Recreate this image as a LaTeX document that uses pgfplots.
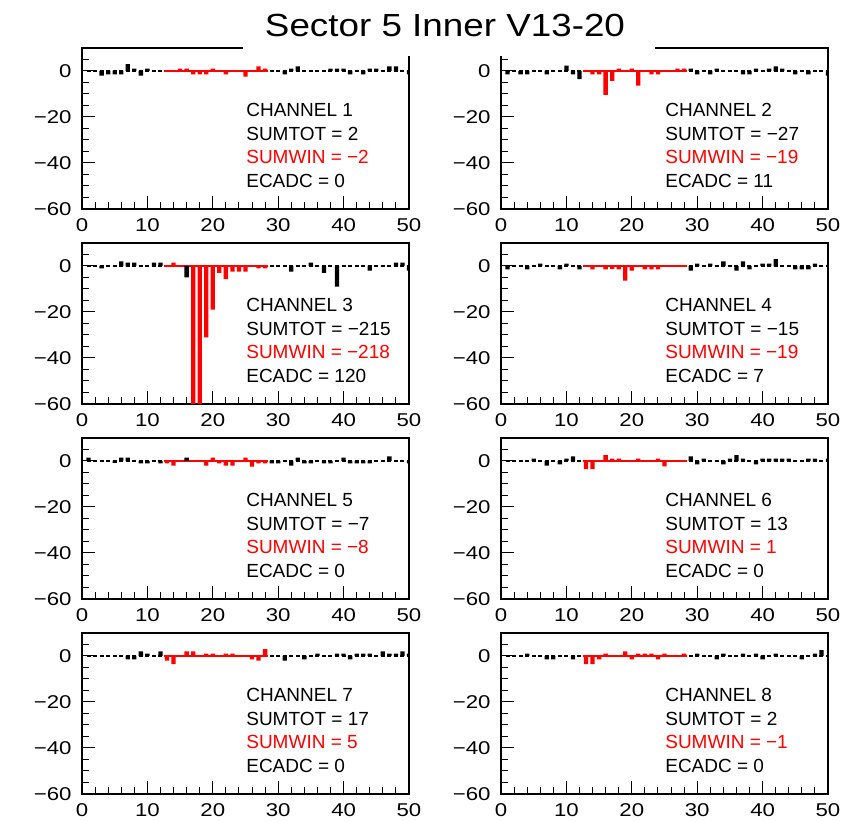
\documentclass[border=0pt]{standalone}
\usepackage{pgfplots}
\pgfplotsset{compat=1.18}
\usepackage{graphicx}
\usepackage{fontspec}
\setmainfont{Liberation Sans}
\newfontfamily\tickfont[FakeStretch=1.2]{Liberation Sans}

\pgfplotsset{panel/.style={
  scale only axis, width=327pt, height=161pt,
  xmin=0, xmax=50, ymin=-60, ymax=10,
  xtick={0,10,20,30,40,50}, minor xtick={2,4,...,48},
  ytick={-60,-40,-20,0}, minor ytick={-55,-50,...,5},
  xticklabels={0,10,20,30,40,50}, yticklabels={−60,−40,−20,0},
  tick align=inside, tick pos=left,
  major tick length=13pt, minor tick length=7pt,
  tick style={black, line width=1pt},
  axis line style={line width=1.3pt},
  ticklabel style={font=\tickfont\fontsize{18.5}{18.5}\selectfont},
  xticklabel style={yshift=-6pt},
  yticklabel style={xshift=-7pt},
  anchor=south west,
}}

% #1 x, #2 y, #3 black bars, #4 red bars, #5 channel, #6 sumtot, #7 sumwin, #8 ecadc
\newcommand{\panel}[8]{%
\begin{axis}[panel, at={(#1pt,#2pt)}]
\addplot[black, line width=1.5pt, dash pattern=on 4pt off 2.54pt] coordinates {(0.69,0) (50,0)};
\addplot[red, line width=1.5pt] coordinates {(12.5,0) (28.5,0)};
\addplot[ybar, bar width=4.3pt, bar shift=0pt, fill=black, draw=none] coordinates {#3};
\addplot[ybar, bar width=4.3pt, bar shift=0pt, fill=red, draw=none] coordinates {#4};
\node[anchor=base west, inner sep=0, font=\fontsize{19}{19}\selectfont] at (rel axis cs:0.502,0.573) {CHANNEL #5};
\node[anchor=base west, inner sep=0, font=\fontsize{19}{19}\selectfont] at (rel axis cs:0.502,0.424) {SUMTOT = #6};
\node[anchor=base west, inner sep=0, font=\fontsize{19}{19}\selectfont, text=red] at (rel axis cs:0.502,0.281) {SUMWIN = #7};
\node[anchor=base west, inner sep=0, font=\fontsize{19}{19}\selectfont] at (rel axis cs:0.502,0.132) {ECADC = #8};
\end{axis}}

\begin{document}
\begin{tikzpicture}
\useasboundingbox (0,0) rectangle (844pt,822pt);

\panel{82}{613}
{(3,-2)(4,-1.5)(5,-1.5)(6,-1.5)(7,3)(8,1)(9,-2)(10,1)(31,-1.5)(32,1)(33,2)(38,1)(39,1)(40,1)(41,-1.5)(43,-1.5)(44,1)(45,1)(47,2)(48,2)(50,-1.5)}
{(15,1)(16,1)(17,-1.5)(18,-1.5)(19,-1.5)(20,1)(22,-1.5)(25,-2.5)(27,2)(28,1)}
{1}{2}{−2}{0}

\panel{501}{613}
{(1,-1.5)(3,-1.5)(4,-1.5)(7,-1.5)(10,2.3)(11,-1.5)(12,-3.5)(29,1)(30,-1.5)(32,-1.5)(33,1)(37,-1.5)(38,-1.5)(39,1)(41,1)(42,2)(43,1)(45,-1.5)(47,-1.5)(50,-2)}
{(14,-1.5)(15,-1.5)(16,-10.4)(17,-4.3)(18,1)(20,1)(21,-6.4)(23,-1.5)(24,-1.5)(27,1)(28,1)}
{2}{−27}{−19}{11}

\panel{82}{418}
{(3,-1)(6,2)(7,1.5)(8,1.5)(11,1.5)(12,1.5)(16,-5)(32,-2.4)(35,1.5)(37,-3)(39,-9)(44,-2)(48,1.5)(49,1.5)(50,-2)}
{(14,1.5)(17,-80)(18,-70)(19,-31)(20,-19)(21,-3)(22,-5.7)(23,-2.4)(24,-2.4)(25,-2.4)(27,-1)(28,-1)}
{3}{−215}{−218}{120}

\panel{501}{418}
{(1,-1.5)(4,-1.5)(6,1)(9,-1.5)(10,1)(12,-1.5)(29,-2)(30,1)(32,1)(34,2)(36,-2)(37,2)(38,-1.5)(40,1)(41,1)(42,3)(45,-1.5)(46,-1.5)(47,-1.5)(48,1)}
{(14,-1.5)(16,-1.5)(17,-1.2)(18,-1.5)(19,-6.4)(20,-2)(22,-1.5)(23,-1.5)(24,-1.5)}
{4}{−15}{−19}{7}

\panel{82}{223}
{(1,1.5)(5,-0.8)(6,1.5)(7,1.5)(9,-1)(10,-1)(12,-1)(16,1.5)(29,-1)(30,-1)(32,-2)(33,1.5)(34,-1)(35,-1)(37,-1)(38,-1)(40,1.5)(41,-1)(42,-1)(43,-1)(44,-1)(47,2)(50,-1)}
{(13,-1)(14,-2)(19,-2)(20,1.5)(21,-1)(22,-2)(23,-2)(25,1.5)(26,-2.5)(27,-1)(28,-1)}
{5}{−7}{−8}{0}

\panel{501}{223}
{(5,1)(7,-2)(9,-1.5)(10,1)(11,2)(29,2)(30,-1.5)(31,1)(34,-1.5)(35,1)(36,2.5)(37,1)(39,-1.5)(40,1)(41,1)(42,1)(43,1)(44,1)(47,1)(48,1)(50,1)}
{(13,-3.5)(14,-3.5)(16,2.5)(17,1)(18,1)(21,1)(24,1)(25,-2.3)}
{6}{13}{1}{0}

\panel{82}{28}
{(7,-1.5)(8,-1.5)(9,2)(10,1)(12,2)(31,-2)(34,-1.5)(36,1)(39,1)(40,1)(41,-1.5)(42,1)(43,1)(44,1)(46,2)(47,1)(48,1)(49,2)(50,1)}
{(13,-2)(14,-3.5)(16,2)(17,2)(19,1)(20,1)(22,1)(23,1)(26,-1.5)(27,-2)(28,3)}
{7}{17}{5}{0}

\panel{501}{28}
{(4,1)(7,-1.5)(8,-1.5)(11,-1.5)(30,1)(33,-1.5)(34,1)(37,1)(39,1)(40,-1.5)(42,1)(46,-1.5)(48,1)(49,2.5)}
{(13,-3.5)(14,-3.5)(15,-1.5)(16,1)(19,2)(20,-1.5)(21,1)(22,1)(23,1)(24,-1.5)(25,1)(28,1)}
{8}{2}{−1}{0}

\fill[white] (243pt,766pt) rectangle (655pt,822pt);
\node at (445pt,797pt) {\scalebox{1.15}[1]{\fontsize{32}{32}\selectfont Sector 5 Inner V13-20}};
\end{tikzpicture}
\end{document}
